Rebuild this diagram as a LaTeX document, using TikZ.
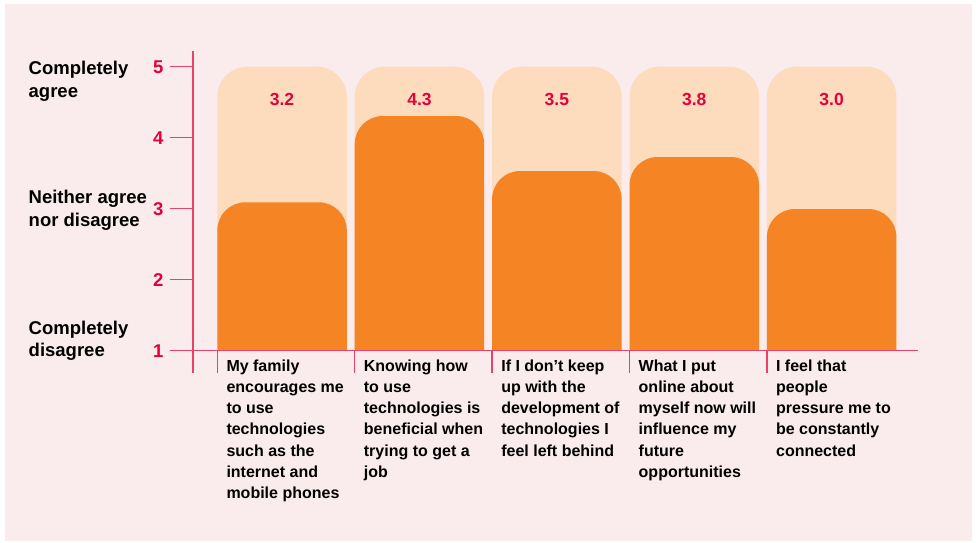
\documentclass[tikz,border=0pt]{standalone}
\usepackage{fontspec}
\setmainfont{Liberation Sans}
\definecolor{bgpink}{HTML}{FAEBED}
\definecolor{peach}{HTML}{FDDBBD}
\definecolor{orng}{HTML}{F58524}
\definecolor{redtxt}{HTML}{E4003B}
\definecolor{axisred}{HTML}{E6426B}
\tikzset{
  axisline/.style={draw=axisred, line width=1.6pt},
  catlabel/.style={font=\bfseries\fontsize{16pt}{21.3pt}\selectfont, align=left, inner sep=0pt, anchor=base west, text=black},
  sidelabel/.style={font=\bfseries\fontsize{18.5pt}{22.5pt}\selectfont, align=left, inner sep=0pt, anchor=base west, text=black},
  valuelabel/.style={font=\bfseries\fontsize{17.5pt}{20pt}\selectfont, inner sep=0pt, anchor=base, text=redtxt},
  ticklabel/.style={font=\bfseries\fontsize{18.5pt}{20pt}\selectfont, inner sep=0pt, anchor=base east, text=redtxt}
}
\begin{document}
\begin{tikzpicture}[x=1pt,y=-1pt]
\useasboundingbox (0,0) rectangle (976,542);
\fill[white] (0,0) rectangle (976,542);
\fill[bgpink] (5,4) rectangle (972,541);

% bars
\foreach \i/\tp/\val in {0/202.3/3.2,1/116/4.3,2/171/3.5,3/157/3.8,4/209/3.0} {
  \pgfmathsetmacro\xl{217.3+137.4*\i}
  \pgfmathsetmacro\xr{\xl+129.5}
  \pgfmathsetmacro\xc{\xl+64.75}
  \fill[peach] (\xl,350.5) [rounded corners=30pt] -- (\xl,66.7) -- (\xr,66.7) [sharp corners] -- (\xr,350.5) -- cycle;
  \fill[orng] (\xl,350.5) [rounded corners=28pt] -- (\xl,\tp) -- (\xr,\tp) [sharp corners] -- (\xr,350.5) -- cycle;
  \node[valuelabel] (v\i) at (\xc,105) {\val};
  \coordinate (ct\i a) at (\xl,350.5);
  \coordinate (ct\i b) at (\xl,373);
  \draw[axisline, line width=1.4pt] (ct\i a) -- (ct\i b);
}

% axis
\coordinate (axtop) at (192.7,51);
\coordinate (axbot) at (192.7,373);
\draw[axisline] (axtop) -- (axbot);
\foreach \v in {1,...,5} {
  \pgfmathsetmacro\yy{350.5-71*(\v-1)}
  \coordinate (tk\v a) at (169.5,\yy);
  \coordinate (tk\v b) at (192.7,\yy);
  \draw[axisline, line width=1.5pt] (tk\v a) -- (tk\v b);
  \node[ticklabel] (t\v) at (163.5,\yy+6.6) {\v};
}
\coordinate (bl a) at (169.5,350.5);
\coordinate (bl b) at (918.3,350.5);
\draw[axisline, line width=1.5pt] (bl a) -- (bl b);

% side labels (anchor = baseline of last line)
\node[sidelabel] (la) at (28.5,97) {Completely\\agree};
\node[sidelabel] (ln) at (28.5,226) {Neither agree\\nor disagree};
\node[sidelabel] (ld) at (28.5,356.5) {Completely\\disagree};

% category labels (anchor = baseline of last line; first line at 371)
\node[catlabel] (c0) at (226.3,498.8) {My family\\encourages me\\to use\\technologies\\such as the\\internet and\\mobile phones};
\node[catlabel] (c1) at (363.7,477.5) {Knowing how\\to use\\technologies is\\beneficial when\\trying to get a\\job};
\node[catlabel] (c2) at (501.1,456.2) {If I don’t keep\\up with the\\development of\\technologies I\\feel left behind};
\node[catlabel] (c3) at (638.5,477.5) {What I put\\online about\\myself now will\\influence my\\future\\opportunities};
\node[catlabel] (c4) at (775.9,456.2) {I feel that\\people\\pressure me to\\be constantly\\connected};
\end{tikzpicture}
\end{document}
